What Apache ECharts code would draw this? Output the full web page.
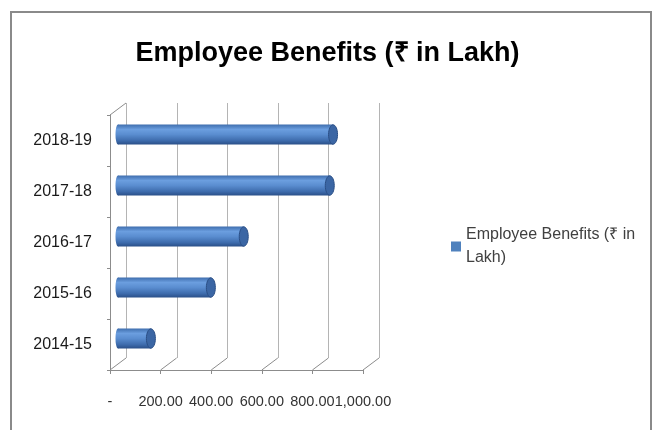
<!DOCTYPE html>
<html><head><meta charset="utf-8">
<script src="https://cdn.jsdelivr.net/npm/echarts@6/dist/echarts.min.js"></script>
<style>html,body{margin:0;padding:0;background:#fff}#c{width:655px;height:430px}</style>
</head><body><div id="c"></div>
<script>
// ---- data ----
const categories = ['2014-15', '2015-16', '2016-17', '2017-18', '2018-19'];
const values = [130, 367, 497, 837, 850];
const xTicks = [0, 200, 400, 600, 800, 1000];
const seriesName = 'Employee Benefits (₹ in Lakh)';
const titleText = 'Employee Benefits (₹ in Lakh)';

// ---- chart ----
const chart = echarts.init(document.getElementById('c'), null, {renderer: 'canvas'});
const DX = 16, DY = -12;
const AX = '#8c8c8c';
const GRID = '#b4b4b4';

function fmt(v) {
  if (v === 0) return '-';
  return v.toLocaleString('en-US', {minimumFractionDigits: 2, maximumFractionDigits: 2});
}

function floorItem(params, api) {
  const v = api.value(0);
  const cs = params.coordSys;
  const x = api.coord([v, 0])[0];
  const yb = cs.y + cs.height;
  const st = {stroke: AX, lineWidth: 1};
  const children = [{type: 'line', shape: {x1: x, y1: yb, x2: x + DX, y2: yb + DY}, style: st}];
  if (v === 0) {
    children.push({type: 'line', shape: {x1: x, y1: cs.y, x2: x + DX, y2: cs.y + DY}, style: st});
  }
  return {type: 'group', children: children};
}

function wallItem(params, api) {
  const v = api.value(0);
  const cs = params.coordSys;
  const x = Math.round(api.coord([v, 0])[0]) + 0.5;
  return {type: 'line', shape: {x1: x, y1: cs.y, x2: x, y2: cs.y + cs.height},
    style: {stroke: GRID, lineWidth: 1}};
}

function cylItem(params, api) {
  const v = api.value(0), c = api.value(1);
  const p0 = api.coord([0, c]);
  const p1 = api.coord([v, c]);
  const h = 20;
  const y0 = p0[1] - h / 2;
  const grad = new echarts.graphic.LinearGradient(0, 0, 0, 1, [
    {offset: 0, color: '#3f6eae'},
    {offset: 0.25, color: '#6b9edf'},
    {offset: 0.5, color: '#5a8dd0'},
    {offset: 0.8, color: '#3e6cad'},
    {offset: 1, color: '#2a4f88'}
  ]);
  return {type: 'group', children: [
    {type: 'ellipse', shape: {cx: p0[0], cy: p0[1], rx: 2.5, ry: h / 2}, style: {fill: grad}},
    {type: 'rect', shape: {x: p0[0], y: y0, width: p1[0] - p0[0], height: h}, style: {fill: grad}},
    {type: 'ellipse', shape: {cx: p1[0], cy: p1[1], rx: 4.5, ry: h / 2 - 0.3},
      style: {fill: '#3b66a4', stroke: '#2b4f86', lineWidth: 1}}
  ]};
}

const option = {
  animation: false,
  backgroundColor: '#fff',
  title: {
    text: titleText, left: 'center', top: 35,
    textStyle: {fontFamily: 'Liberation Sans', fontWeight: 'bold', fontSize: 27, color: '#000'}
  },
  legend: {
    data: [seriesName],
    left: 451, top: 212, padding: 0,
    icon: 'rect', itemWidth: 10, itemHeight: 10,
    formatter: function () { return 'Employee Benefits (₹ in\nLakh)'; },
    textStyle: {fontFamily: 'Liberation Sans', fontSize: 16, color: '#404040', lineHeight: 23, padding: [23, 0, 0, 0]}
  },
  graphic: [
    {type: 'rect', shape: {x: 11, y: 12, width: 640, height: 450}, style: {fill: 'none', stroke: '#8a8a8a', lineWidth: 2}, silent: true, z: -1}
  ],
  grid: [
    {left: 126, top: 103, width: 253, height: 255},
    {left: 110, top: 115, width: 253, height: 255},
    {left: 118, top: 109, width: 253, height: 255}
  ],
  xAxis: [
    {gridIndex: 0, type: 'value', min: 0, max: 1000, interval: 200, show: false, splitLine: {show: false}},
    {gridIndex: 1, type: 'value', min: 0, max: 1000, interval: 200,
      axisLine: {show: true, lineStyle: {color: AX}},
      axisTick: {show: true, length: 4, lineStyle: {color: AX}},
      splitLine: {show: false},
      axisLabel: {margin: 24, formatter: fmt, fontFamily: 'Liberation Sans', fontSize: 14.5, color: '#333',
        hideOverlap: false, showMinLabel: true, showMaxLabel: true}},
    {gridIndex: 2, type: 'value', min: 0, max: 1000, show: false, splitLine: {show: false}}
  ],
  yAxis: [
    {gridIndex: 0, type: 'category', data: categories, show: false},
    {gridIndex: 1, type: 'category', data: categories,
      axisLine: {show: true, lineStyle: {color: AX}},
      axisTick: {show: true, length: 3, lineStyle: {color: AX}},
      splitLine: {show: false},
      axisLabel: {margin: 18, fontFamily: 'Liberation Sans', fontSize: 16, color: '#1a1a1a'}},
    {gridIndex: 2, type: 'category', data: categories, show: false}
  ],
  series: [
    {type: 'custom', name: 'wall', xAxisIndex: 0, yAxisIndex: 0, silent: true, z: 1,
      data: xTicks.map(function (v) { return [v]; }), renderItem: wallItem},
    {type: 'custom', name: 'floor', xAxisIndex: 1, yAxisIndex: 1, silent: true, z: 1,
      data: xTicks.map(function (v) { return [v]; }), renderItem: floorItem},
    {type: 'custom', name: seriesName, xAxisIndex: 2, yAxisIndex: 2, z: 3,
      itemStyle: {color: '#4f81bd'},
      data: values.map(function (v, i) { return [v, i]; }), renderItem: cylItem}
  ]
};
chart.setOption(option);
</script>
</body></html>
